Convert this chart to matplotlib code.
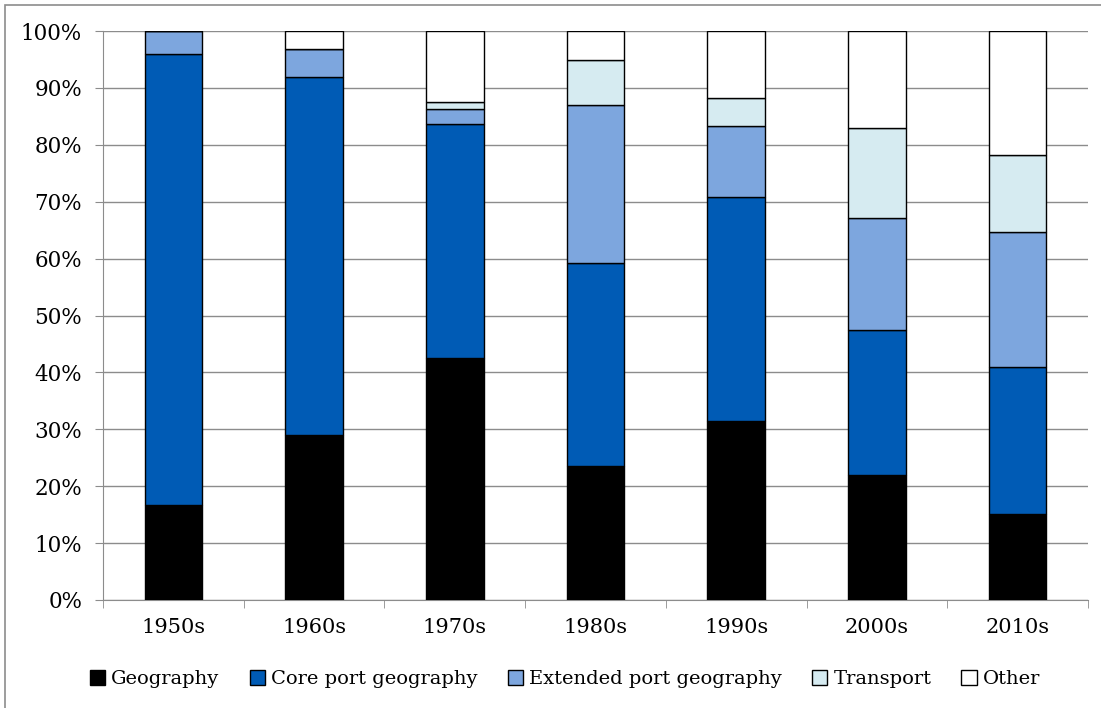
import matplotlib
matplotlib.use('Agg')
import matplotlib.pyplot as plt
import numpy as np
from matplotlib.patches import Rectangle

# ── Data (percent shares per decade) ─────────────────────────────────────────
decades = ['1950s', '1960s', '1970s', '1980s', '1990s', '2000s', '2010s']
geography = [16.7, 29.0, 42.5, 23.5, 31.5, 22.0, 15.1]
core_port = [79.3, 63.0, 41.1, 35.7, 39.3, 25.5, 25.9]
extended_port = [4.0, 4.8, 2.7, 27.8, 12.5, 19.6, 23.7]
transport = [0.0, 0.0, 1.2, 7.9, 4.9, 15.9, 13.5]
other = [0.0, 3.2, 12.5, 5.1, 11.8, 17.0, 21.8]

series = [
    ('Geography', geography, '#000000'),
    ('Core port geography', core_port, '#005BB5'),
    ('Extended port geography', extended_port, '#7DA6DE'),
    ('Transport', transport, '#D6EBF1'),
    ('Other', other, '#FFFFFF'),
]

plt.rcParams['font.family'] = ['DejaVu Serif']

fig = plt.figure(figsize=(11.01, 7.08), dpi=100)
ax = fig.add_axes([103 / 1101, 108 / 708, 985 / 1101, 569 / 708])

x = np.arange(len(decades))
bottom = np.zeros(len(decades))
for name, vals, color in series:
    vals = np.array(vals)
    ax.bar(x, vals, width=0.41, bottom=bottom, color=color,
           edgecolor='black', linewidth=1.0, label=name, zorder=3)
    bottom += vals

ax.set_xlim(-0.5, len(decades) - 0.5)
ax.set_ylim(0, 100)
ax.set_yticks(np.arange(0, 101, 10))
ax.set_yticklabels([f'{v}%' for v in range(0, 101, 10)], fontsize=15.5)
ax.set_xticks(x)
ax.set_xticklabels(decades, fontsize=15)
ax.set_xticks(np.arange(-0.5, len(decades), 1), minor=True)
ax.tick_params(axis='x', which='major', length=0, pad=13)
ax.tick_params(axis='x', which='minor', length=6, color='#8c8c8c')
ax.tick_params(axis='y', length=6, color='#8c8c8c', pad=9)
ax.grid(axis='y', color='#8c8c8c', linewidth=1.0, zorder=0)

for side in ['top', 'right']:
    ax.spines[side].set_visible(False)
for side in ['left', 'bottom']:
    ax.spines[side].set_color('#8c8c8c')

handles, labels = ax.get_legend_handles_labels()
leg = fig.legend(handles, labels, loc='center', bbox_to_anchor=(565 / 1101, 1 - 679 / 708),
                 ncol=5, frameon=False, fontsize=14, handlelength=0.8, handleheight=0.8,
                 handletextpad=0.3, columnspacing=1.55)

# outer chart border
fig.patches.append(Rectangle((5 / 1101, -0.1), 1.2, 1 - 5 / 708 + 0.1,
                             transform=fig.transFigure, fill=False,
                             edgecolor='#8c8c8c', linewidth=1.2))

fig.savefig('out.png', dpi=100)
